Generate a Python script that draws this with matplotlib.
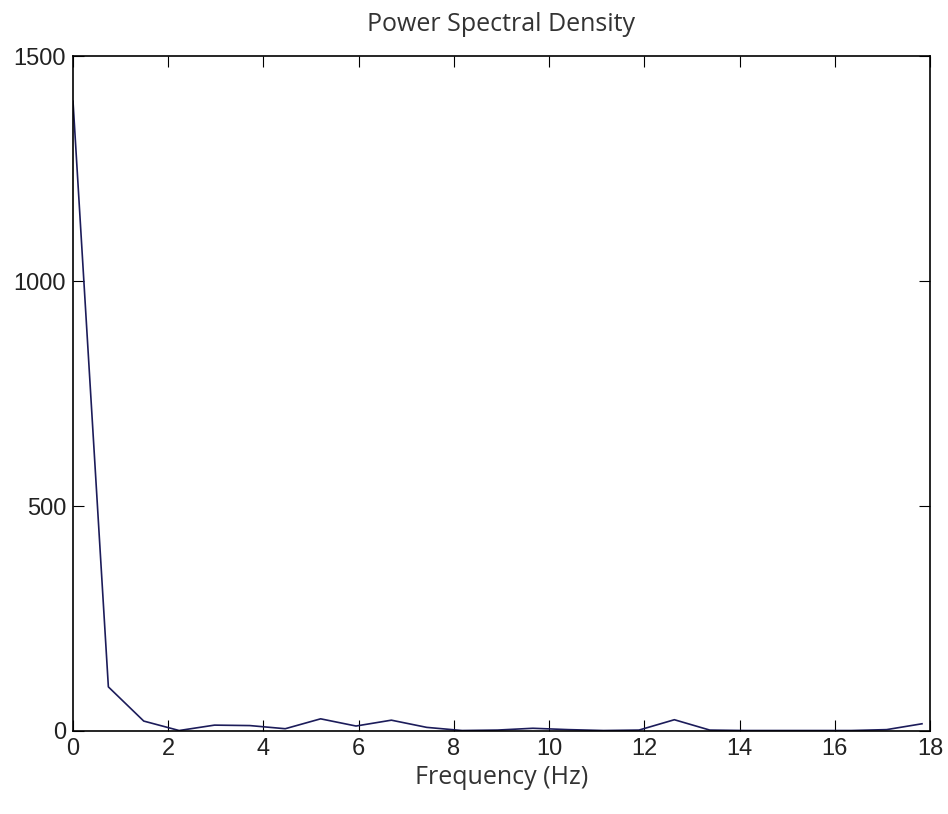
import numpy as np
import matplotlib
matplotlib.use('Agg')
import matplotlib.pyplot as plt

# PSD values, one bin every ~0.743 Hz
freq_step = 0.743
psd = [1400, 98, 22, 1, 13, 12, 5, 27, 11, 24, 8, 1, 2, 6, 3, 1, 2, 25, 2, 1, 1, 1, 1, 3, 16]
freqs = [k * freq_step for k in range(len(psd))]

fig = plt.figure(figsize=(9.48, 8.14), dpi=100)
ax = fig.add_axes([0.077, 0.102, 0.904, 0.829])
ax.plot(freqs, psd, color='#1c1c5a', linewidth=1.2)

ax.set_xlim(0, 18)
ax.set_ylim(0, 1500)
ax.set_xticks(range(0, 19, 2))
ax.set_yticks([0, 500, 1000, 1500])
ax.tick_params(direction='in', length=8, top=True, right=True, labelsize=17, pad=5,
               labelcolor='#222222')
for lbl in ax.get_xticklabels() + ax.get_yticklabels():
    lbl.set_family('Liberation Sans')
for s in ax.spines.values():
    s.set_linewidth(1.2)

ax.set_title('Power Spectral Density', fontsize=18, family='Open Sans', color='#333333', pad=18)
ax.set_xlabel('Frequency (Hz)', fontsize=18, family='Open Sans', color='#333333', labelpad=4)

fig.savefig('out.png', dpi=100)
